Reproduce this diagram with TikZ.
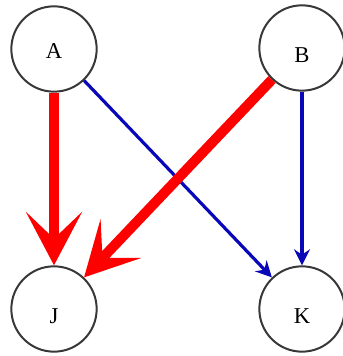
\documentclass[tikz,border=0pt]{standalone}
\usepackage{fontspec}
\setmainfont{Liberation Serif}
\usetikzlibrary{arrows.meta}
\definecolor{EdgeGray}{HTML}{383838}
\definecolor{HotRed}{HTML}{FF0000}
\definecolor{DeepBlue}{HTML}{0808B8}

\begin{document}
\begin{tikzpicture}[x=0.75pt,y=0.75pt,
    vertex/.style={circle,draw=EdgeGray,line width=1.5pt,minimum size=64pt,inner sep=0pt,
      text height=22pt,text depth=0pt,font=\fontsize{17}{20}\selectfont},
    heavy/.style={HotRed,line width=7.5pt,-{Stealth[length=40pt,width=42pt,inset=20pt]}},
    light/.style={DeepBlue,line width=2.4pt,-{Stealth[length=12pt,width=12pt,inset=4pt]}}]
  \useasboundingbox (0,0) rectangle (342,356);
  \node[vertex,text height=15pt] (A) at (54,307) {A};
  \node[vertex] (B) at (302,308) {B};
  \node[vertex] (J) at (54,47) {J};
  \node[vertex] (K) at (302,47) {K};
  % thin ones first, thick ones drawn over them
  \draw[light] (A) -- (K);
  \draw[light] (B) -- (K);
  \draw[heavy] (A) -- (J);
  \draw[heavy] (B) -- (J);
\end{tikzpicture}
\end{document}
